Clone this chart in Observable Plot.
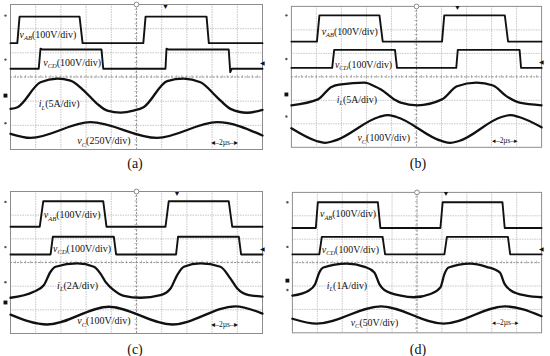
<!DOCTYPE html>
<html><head><meta charset="utf-8">
<script src="https://cdn.jsdelivr.net/npm/d3@7"></script>
<script src="https://cdn.jsdelivr.net/npm/@observablehq/plot@0.6"></script>
<style>
body{margin:0;background:#fff;}
#wrap{position:relative;width:550px;height:356px;overflow:hidden;background:#fff;}
.panel{position:absolute;}
.cap{position:absolute;font-family:"Liberation Serif","Times New Roman",serif;font-size:14px;color:#111;transform:translate(-50%,-50%);white-space:nowrap;}
</style></head><body><div id="wrap"></div>
<script>
// ================= DATA (in oscilloscope divisions: x 0..10, y 0..6) =================
const captions = ["(a)", "(b)", "(c)", "(d)"];
const channelSymbols = ["v", "v", "i", "v"];
const channelSubs = ["AB", "CD", "L", "C"];
const scales_a = ["(100V/div)", "(100V/div)", "(5A/div)", "(250V/div)"];
const scales_b = ["(100V/div)", "(100V/div)", "(5A/div)", "(100V/div)"];
const scales_c = ["(100V/div)", "(100V/div)", "(2A/div)", "(100V/div)"];
const scales_d = ["(100V/div)", "(100V/div)", "(1A/div)", "(50V/div)"];
const timeLabel = "2µs";
const gridX = [1, 2, 3, 4, 6, 7, 8, 9];
const gridY = [1, 2, 4, 5];

// panel (a)
const vAB_a = [[0,4.40],[0.27,4.40],[0.36,5.50],[2.74,5.50],[2.86,4.40],[5.27,4.40],[5.36,5.50],[7.78,5.50],[7.87,4.40],[10,4.40]];
const vCD_a = [[0,3.34],[1.12,3.34],[1.19,4.17],[1.26,4.14],[3.61,4.14],[3.68,3.34],[6.15,3.34],[6.19,4.17],[6.26,4.14],[8.66,4.14],[8.72,3.20],[8.78,3.34],[10,3.34]];
const iL_a = [[0,1.68],[0.28,1.75],[1.19,2.78],[1.86,2.93],[2.38,2.85],[2.91,2.44],[3.44,1.89],[3.84,1.61],[4.37,1.53],[4.88,1.61],[5.28,1.75],[6.22,2.83],[6.87,2.93],[7.54,2.78],[8.2,2.16],[8.73,1.68],[9.39,1.52],[10,1.64]];
const vC_a = [[0,0.65],[0.8,0.48],[3.17,1.13],[5.82,0.48],[8.2,1.13],[10,0.58]];

// panel (b)
const vAB_b = [[0,4.50],[1.02,4.50],[1.12,5.62],[3.52,5.62],[3.65,4.50],[6.02,4.50],[6.11,5.62],[8.53,5.62],[8.66,4.50],[10,4.50]];
const vCD_b = [[0,3.38],[1.63,3.38],[1.71,4.15],[4.14,4.15],[4.22,3.38],[6.59,3.38],[6.65,4.15],[9.12,4.15],[9.18,3.38],[10,3.38]];
const iL_b = [[0,1.79],[1.06,2.04],[1.6,2.57],[2.0,2.68],[2.92,2.75],[3.32,2.60],[3.58,2.46],[4.11,2.04],[4.37,1.90],[5.03,1.79],[6.02,2.04],[6.62,2.60],[7.40,2.75],[8.06,2.63],[8.59,2.18],[9.12,1.90],[10,1.79]];
const vC_b = [[0,0.81],[1.0,0.27],[1.34,0.19],[1.7,0.27],[3.5,1.29],[3.85,1.37],[4.2,1.29],[6.0,0.27],[6.35,0.19],[6.7,0.27],[8.4,1.29],[8.75,1.37],[9.1,1.29],[10,0.85]];

// panel (c)
const vAB_c = [[0,4.51],[1.16,4.51],[1.30,5.59],[3.68,5.59],[3.81,4.51],[6.15,4.51],[6.28,5.59],[8.66,5.59],[8.80,4.51],[10,4.51]];
const vCD_c = [[0,3.34],[1.59,3.34],[1.68,4.09],[4.10,4.09],[4.19,3.34],[6.57,3.34],[6.65,4.09],[9.06,4.09],[9.15,3.34],[10,3.34]];
const iL_c = [[0,1.51],[0.92,1.76],[1.32,2.04],[1.59,2.61],[1.79,2.82],[2.65,2.96],[3.31,2.82],[3.57,2.53],[3.77,2.18],[4.10,1.83],[4.50,1.59],[5.16,1.51],[5.95,1.62],[6.35,1.90],[6.61,2.46],[6.88,2.82],[7.54,2.96],[8.33,2.82],[8.73,2.32],[9.0,1.90],[9.46,1.62],[10,1.56]];
const vC_c = [[0,0.80],[1.46,0.38],[3.90,1.13],[6.42,0.38],[8.93,1.15],[10,0.84]];

// panel (d)
const vAB_d = [[0,4.48],[0.94,4.48],[1.02,5.58],[3.43,5.58],[3.53,4.48],[5.94,4.48],[6.03,5.58],[8.43,5.58],[8.52,4.48],[10,4.48]];
const vCD_d = [[0,3.35],[1.08,3.35],[1.18,4.10],[3.62,4.10],[3.72,3.35],[6.10,3.35],[6.20,4.10],[8.65,4.10],[8.74,3.35],[10,3.35]];
const iL_d = [[0,1.59],[0.65,1.80],[0.91,2.08],[1.08,2.58],[1.24,2.79],[2.17,2.96],[2.90,2.82],[3.29,2.58],[3.49,2.08],[3.69,1.83],[4.35,1.59],[4.88,1.52],[5.54,1.66],[5.94,1.94],[6.10,2.51],[6.27,2.79],[7.13,2.96],[7.79,2.82],[8.32,2.58],[8.52,2.08],[8.78,1.80],[9.38,1.59],[10,1.52]];
const vC_d = [[0,0.60],[0.98,0.39],[3.56,1.13],[6.07,0.39],[8.52,1.13],[10,0.71]];

// ================= LAYOUT =================
const M = 9;
const panels = [
  {frame:{L:10,T:4,R:262,B:149}, cap:[135,164], waves:[vAB_a,vCD_a,iL_a,vC_a], scales:scales_a,
   labelPos:[[0.36,4.75],[1.30,3.59],[1.12,1.88],[2.65,0.34]], timePos:[8.49,0.30],
   markL:[5.54,3.72,2.23,1.09], markBig:2, trig:6.15, markR:3.59},
  {frame:{L:291,T:6,R:544,B:148.5}, cap:[418,164], waves:[vAB_b,vCD_b,iL_b,vC_b], scales:scales_b,
   labelPos:[[1.21,4.92],[1.74,3.52],[1.81,2.04],[2.64,0.39]], timePos:[8.54,0.29],
   markL:[5.62,3.76,2.25,1.31], markBig:2, trig:6.64, markR:3.63},
  {frame:{L:10,T:191,R:262,B:333}, cap:[135,350], waves:[vAB_c,vCD_c,iL_c,vC_c], scales:scales_c,
   labelPos:[[1.32,5.0],[1.69,3.59],[1.85,2.02],[2.65,0.52]], timePos:[8.49,0.39],
   markL:[5.56,3.65,2.17,1.31], markBig:3, trig:6.61, markR:3.56},
  {frame:{L:292,T:192,R:544,B:334}, cap:[418,350], waves:[vAB_d,vCD_d,iL_d,vC_d], scales:scales_d,
   labelPos:[[1.11,5.07],[1.18,3.56],[1.38,2.01],[2.34,0.43]], timePos:[8.55,0.43],
   markL:[5.58,3.67,2.23,1.83], markBig:2, trig:6.16, markR:3.59}
];

const wrap = document.getElementById("wrap");
const minorX = d3.range(1, 50).map(i => i * 0.2);
const minorY = d3.range(1, 30).map(i => i * 0.2);
const serif = "'Liberation Serif', 'Times New Roman', serif";

panels.forEach((p, k) => {
  const f = p.frame;
  const labels = channelSymbols.map((s, i) => ({sym: s, sub: channelSubs[i], unit: p.scales[i], x: p.labelPos[i][0], y: p.labelPos[i][1]}));
  const toObj = arr => arr.map(([x, y]) => ({x, y}));
  const marks = [
    Plot.ruleX(gridX, {stroke: "#b8b8b8", strokeWidth: 0.8, strokeDasharray: "1.5,1"}),
    Plot.ruleY(gridY, {stroke: "#b8b8b8", strokeWidth: 0.8, strokeDasharray: "1.5,1"}),
    Plot.ruleX([5], {stroke: "#8a8a8a", strokeWidth: 0.9, strokeDasharray: "2,1.5"}),
    Plot.ruleY([3], {stroke: "#8a8a8a", strokeWidth: 0.9, strokeDasharray: "2,1.5"}),
    Plot.ruleX(minorX, {x: d => d, y1: 2.94, y2: 3.06, stroke: "#999", strokeWidth: 0.7}),
    Plot.ruleY(minorY, {y: d => d, x1: 4.94, x2: 5.06, stroke: "#999", strokeWidth: 0.7}),
    Plot.frame({stroke: "#8c8c8c", strokeWidth: 1}),
    // waveforms
    Plot.line(toObj(p.waves[0]), {x: "x", y: "y", stroke: "#111", strokeWidth: 1.9}),
    Plot.line(toObj(p.waves[1]), {x: "x", y: "y", stroke: "#111", strokeWidth: 1.9}),
    Plot.line(toObj(p.waves[2]), {x: "x", y: "y", stroke: "#111", strokeWidth: 2.3, curve: "monotone-x"}),
    Plot.line(toObj(p.waves[3]), {x: "x", y: "y", stroke: "#111", strokeWidth: 2.3, curve: "monotone-x"}),
    // channel labels
    Plot.text(labels, {x: "x", y: "y", text: d => d.sym + d.sub + d.unit, textAnchor: "start",
      fontFamily: serif, fontSize: 10, fill: "#111"}),
    // time/div marker
    Plot.text([p.timePos], {x: d => d[0], y: d => d[1], text: () => "◂–" + timeLabel + "–▸",
      fontFamily: serif, fontSize: 7.5, fill: "#111"}),
    // left channel markers
    Plot.dot(p.markL.filter((_, i) => i !== p.markBig), {x: -0.2, y: d => d, r: 1.2, fill: "#555", stroke: "none"}),
    Plot.dot([p.markL[p.markBig]], {x: -0.2, y: d => d, r: 2.2, symbol: "square", fill: "#111", stroke: "none"}),
    // trigger markers
    Plot.dot([5], {x: d => d, y: 6, r: 2.4, fill: "white", stroke: "#888", strokeWidth: 1}),
    Plot.text([p.trig], {x: d => d, y: 5.92, text: () => "▼", fontSize: 7, fill: "#111"}),
    Plot.text([p.markR], {x: 10, y: d => d, text: () => "◀", fontSize: 6, fill: "#111"})
  ];
  const svg = Plot.plot({
    width: (f.R - f.L) + 2 * M,
    height: (f.B - f.T) + 2 * M,
    marginLeft: M, marginRight: M, marginTop: M, marginBottom: M,
    x: {domain: [0, 10], axis: null},
    y: {domain: [0, 6], axis: null},
    style: {background: "transparent", overflow: "visible"},
    marks
  });
  // rebuild channel labels with italic symbol + subscript
  const full = labels.map(l => l.sym + l.sub + l.unit);
  d3.select(svg).selectAll("text").each(function() {
    const i = full.indexOf(this.textContent);
    if (i < 0) return;
    const lab = labels[i];
    const t = d3.select(this);
    t.text(null);
    t.append("tspan").attr("font-style", "italic").text(lab.sym);
    t.append("tspan").attr("font-style", "italic").attr("font-size", "6.5px").attr("dy", "2.5").text(lab.sub);
    t.append("tspan").attr("dy", "-2.5").text(lab.unit);
  });
  const div = document.createElement("div");
  div.className = "panel";
  div.style.left = (f.L - M) + "px";
  div.style.top = (f.T - M) + "px";
  div.appendChild(svg);
  wrap.appendChild(div);
  const cap = document.createElement("div");
  cap.className = "cap";
  cap.style.left = p.cap[0] + "px";
  cap.style.top = p.cap[1] + "px";
  cap.textContent = captions[k];
  wrap.appendChild(cap);
});
</script></body></html>
